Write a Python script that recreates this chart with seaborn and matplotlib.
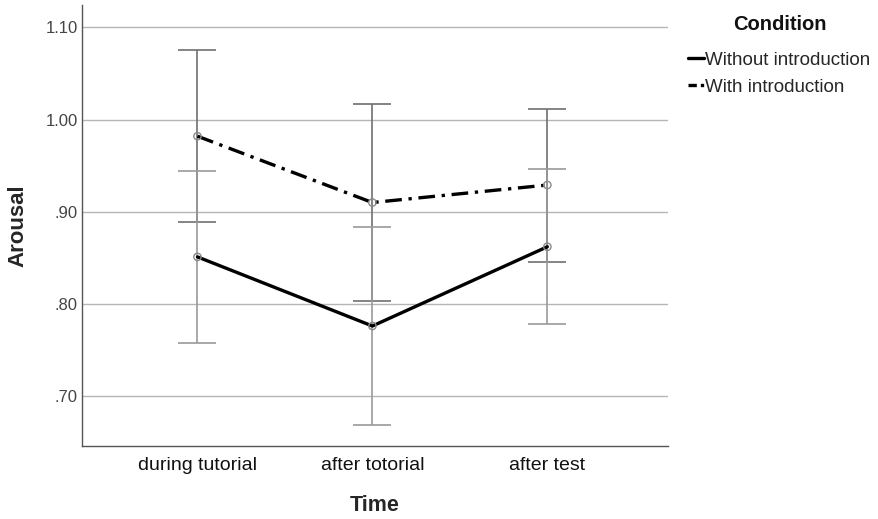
import pandas as pd
import numpy as np
import matplotlib.pyplot as plt
import seaborn as sns
from matplotlib.lines import Line2D

# Data
times = ["during tutorial", "after totorial", "after test"]
without_mean = [0.851, 0.776, 0.862]
without_err = [0.093, 0.107, 0.084]
with_mean = [0.982, 0.910, 0.929]
with_err = [0.093, 0.107, 0.083]
conditions = ["Without introduction", "With introduction"]

df = pd.DataFrame({
    "Time": times * 2,
    "Arousal": without_mean + with_mean,
    "err": without_err + with_err,
    "Condition": [conditions[0]] * 3 + [conditions[1]] * 3,
})

sns.set_style("white")
plt.rcParams["font.family"] = ["Liberation Sans", "DejaVu Sans"]

fig = plt.figure(figsize=(8.79, 5.19), dpi=100)
ax = fig.add_axes([0.0933, 0.1407, 0.6667, 0.849])

# error bars first so the lines sit on top
bar_colors = {conditions[0]: "#9a9a9a", conditions[1]: "#707070"}
for cond, sub in df.groupby("Condition"):
    xpos = [times.index(t) for t in sub["Time"]]
    ax.errorbar(xpos, sub["Arousal"], yerr=sub["err"], fmt="none",
                ecolor=bar_colors[cond], elinewidth=1.2, capsize=14,
                capthick=1.2, zorder=2)

sns.lineplot(data=df, x="Time", y="Arousal", hue="Condition", style="Condition",
             hue_order=conditions, style_order=conditions,
             palette=["black", "black"], dashes=["", (5, 2, 1, 2)],
             linewidth=2.4, sort=False, ax=ax, zorder=3, legend=False)

# open circle markers
for cond in conditions:
    sub = df[df["Condition"] == cond]
    ax.scatter([times.index(t) for t in sub["Time"]], sub["Arousal"], s=28,
               facecolors="none", edgecolors="#8a8a8a", linewidths=1, zorder=4)

ax.set_xlim(-0.66, 2.69)
ax.set_ylim(0.6458, 1.124)
ax.set_yticks([0.70, 0.80, 0.90, 1.00, 1.10])
ax.set_yticklabels([".70", ".80", ".90", "1.00", "1.10"])
ax.yaxis.grid(True, color="#b5b5b5", linewidth=1)
ax.xaxis.grid(False)
ax.set_axisbelow(True)
ax.tick_params(axis="x", length=0, labelsize=14, colors="#111111", pad=8)
ax.tick_params(axis="y", length=0, labelsize=12, colors="#444444", pad=3)

for side in ["top", "right"]:
    ax.spines[side].set_visible(False)
for side in ["left", "bottom"]:
    ax.spines[side].set_color("#555555")
    ax.spines[side].set_linewidth(1)

ax.set_xlabel("Time", fontsize=15.5, fontweight="bold", labelpad=15)
ax.set_ylabel("Arousal", fontsize=16, fontweight="bold", labelpad=12)

# legend: title placed separately, short handles
handles = [Line2D([], [], color="black", linewidth=2.4),
           Line2D([], [], color="black", linewidth=2.4, dashes=(2.5, 1.2, 1, 1.2))]
fig.text(780 / 879, 1 - 25 / 519, "Condition", ha="center", va="center",
         fontsize=14.5, fontweight="bold", color="#111111")
fig.legend(handles, conditions, loc="upper left",
           bbox_to_anchor=(0.764, 0.9325), frameon=False, fontsize=13.5,
           handlelength=0.85, handletextpad=0.05, labelspacing=0.5)

fig.savefig("out.png", dpi=100)
